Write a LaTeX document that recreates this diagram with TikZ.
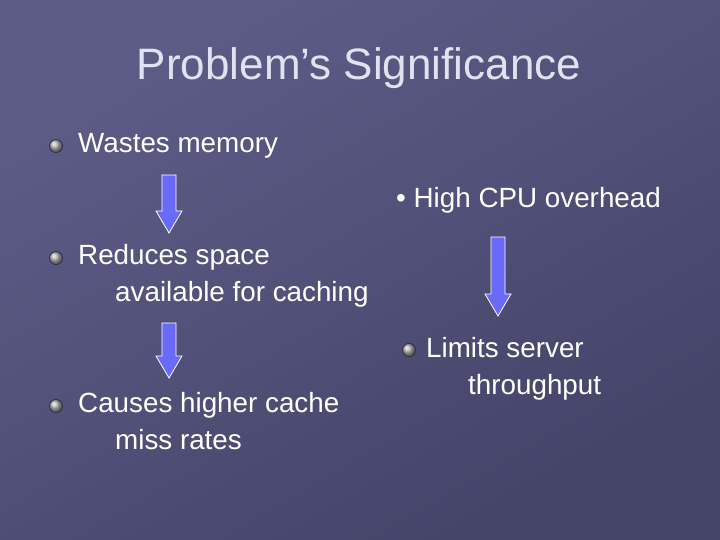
\documentclass[tikz,border=0pt]{standalone}
\usepackage{fontspec}
\setmainfont{Liberation Sans}
\begin{document}
\begin{tikzpicture}[x=1pt,y=-1pt,
  txt/.style={anchor=north west,inner sep=0pt,text=white,font=\fontsize{27.8}{37}\selectfont,align=left},
  bul/.style={circle,minimum size=13pt,inner sep=0pt,draw={rgb,255:red,40;green,40;blue,50},line width=0.6pt,ball color=gray!60},
  barrow/.style={fill={rgb,255:red,106;green,106;blue,248},draw=white,line width=0.8pt}]
\shade[top color={rgb,255:red,92;green,92;blue,135},bottom color={rgb,255:red,68;green,68;blue,105},shading angle=30] (0,0) rectangle (720,540);
\useasboundingbox (0,0) rectangle (720,540);
\node[text={rgb,255:red,225;green,225;blue,240},font=\fontsize{44}{52}\selectfont] (title) at (359,68) {Problem’s Significance};
\node[bul] (b1) at (56,146) {};
\node[txt] (t1) at (78,133) {Wastes memory};
\node[txt] (t4) at (396,187) {• High CPU overhead};
\node[bul] (b2) at (56,258) {};
\node[txt] (t2) at (78,244) {Reduces space\\\hspace{37pt}available for caching};
\node[bul] (b3) at (56,406) {};
\node[txt] (t3) at (78,392) {Causes higher cache\\\hspace{37pt}miss rates};
\node[bul] (b5) at (409,350) {};
\node[txt] (t5) at (426,337) {Limits server\\\hspace{42pt}throughput};
\draw[barrow] (162,175)--(176,175)--(176,211)--(182,211)--(169,233)--(156,211)--(162,211)--cycle;
\draw[barrow] (162,323)--(176,323)--(176,356)--(182,356)--(169,378)--(156,356)--(162,356)--cycle;
\draw[barrow] (491,237)--(505,237)--(505,294)--(511,294)--(498,316)--(485,294)--(491,294)--cycle;
\end{tikzpicture}
\end{document}
